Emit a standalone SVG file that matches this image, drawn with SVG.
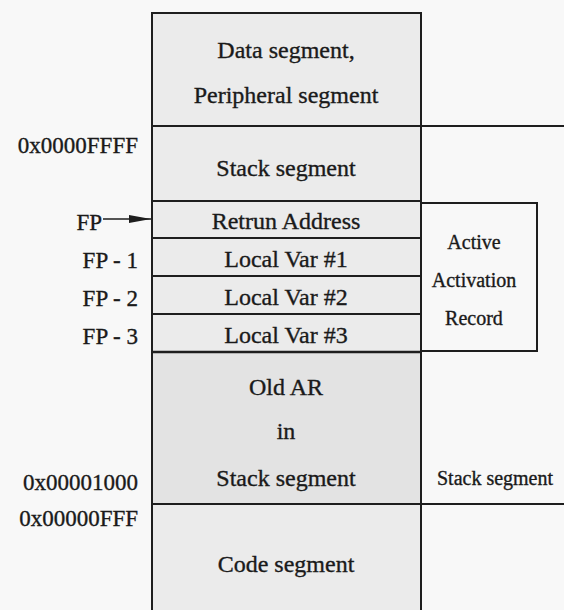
<svg xmlns="http://www.w3.org/2000/svg" width="564" height="610" viewBox="0 0 564 610">
<style>
text{font-family:"Liberation Serif","Times New Roman",serif;fill:#1a1a1a;stroke:#1a1a1a;stroke-width:0.35}
.t{font-size:24px;text-anchor:middle}
.l{font-size:23px;text-anchor:end}
.s{font-size:20px;text-anchor:middle}
.ln{stroke:#1e1e1e;stroke-width:2;fill:none}
.cell{fill:#ebebeb}
</style>
<defs>
<marker id="ah" markerWidth="22" markerHeight="10" refX="22" refY="5" orient="auto" markerUnits="userSpaceOnUse">
<path d="M0,1 L22,5 L0,9 Z" fill="#1e1e1e"/>
</marker>
</defs>
<rect x="0" y="0" width="564" height="610" fill="#f8f8f8"/>
<g id="data-seg">
<rect class="cell" x="152" y="13" width="269" height="113"/>
<text class="t" x="286" y="58">Data segment,</text>
<text class="t" x="286" y="103">Peripheral segment</text>
</g>
<g id="stack-seg">
<rect class="cell" x="152" y="126" width="269" height="75"/>
<text class="t" x="286" y="176">Stack segment</text>
</g>
<g id="ret-addr">
<rect class="cell" x="152" y="201" width="269" height="37"/>
<text class="t" x="286" y="229">Retrun Address</text>
</g>
<g id="var1">
<rect class="cell" x="152" y="238" width="269" height="38"/>
<text class="t" x="286" y="267">Local Var #1</text>
</g>
<g id="var2">
<rect class="cell" x="152" y="276" width="269" height="38"/>
<text class="t" x="286" y="305">Local Var #2</text>
</g>
<g id="var3">
<rect class="cell" x="152" y="314" width="269" height="38"/>
<text class="t" x="286" y="343">Local Var #3</text>
</g>
<g id="old-ar">
<rect x="152" y="352" width="269" height="152" fill="#e3e3e3"/>
<text class="t" x="286" y="395">Old AR</text>
<text class="t" x="286" y="439">in</text>
<text class="t" x="286" y="486">Stack segment</text>
</g>
<g id="code-seg">
<rect class="cell" x="152" y="504" width="269" height="106"/>
<text class="t" x="286" y="572">Code segment</text>
</g>
<g id="active-ar">
<rect x="421" y="203" width="116" height="148" fill="#f2f2f2" class="ln"/>
<text class="s" x="474" y="249">Active</text>
<text class="s" x="474" y="287">Activation</text>
<text class="s" x="474" y="325">Record</text>
</g>
<g id="labels">
<text class="l" x="138" y="153">0x0000FFFF</text>
<text class="l" x="102" y="230">FP</text>
<text class="l" x="138" y="268">FP - 1</text>
<text class="l" x="138" y="306">FP - 2</text>
<text class="l" x="138" y="344">FP - 3</text>
<text class="l" x="138" y="490">0x00001000</text>
<text class="l" x="138" y="526">0x00000FFF</text>
<text class="s" x="495" y="485">Stack segment</text>
</g>
<g id="connectors">
<path class="ln" d="M152,610 V13 H421 V610"/>
<path class="ln" d="M152,126 H564"/>
<path class="ln" d="M152,201 H421"/>
<path class="ln" d="M152,238 H421"/>
<path class="ln" d="M152,276 H421"/>
<path class="ln" d="M152,314 H421"/>
<path class="ln" d="M152,352 H421" style="stroke-width:2.6"/>
<path class="ln" d="M152,504 H564"/>
<path class="ln" d="M103,219 H151" marker-end="url(#ah)" style="stroke-width:1.5"/>
</g>
</svg>
